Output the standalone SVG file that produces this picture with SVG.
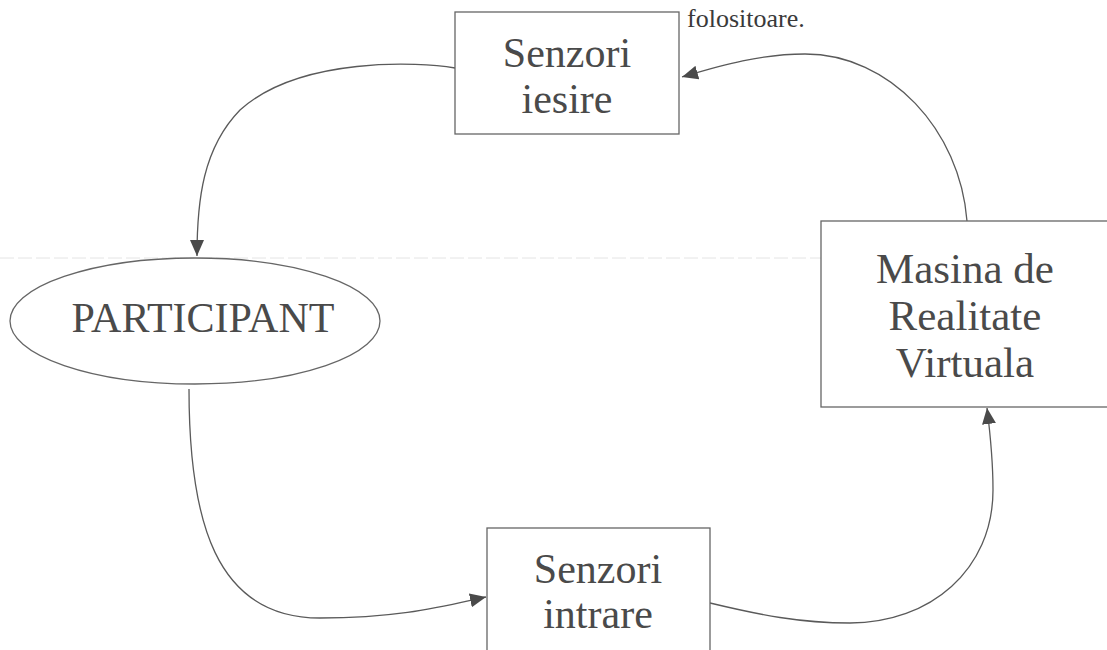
<svg xmlns="http://www.w3.org/2000/svg" width="1107" height="650" viewBox="0 0 1107 650">
<style>
.box{fill:#fff;stroke:#666;stroke-width:1.3}
.lbl{font-family:"Liberation Serif","Times New Roman",serif;font-size:42px;fill:#4a4a4a;text-anchor:middle}
.con{fill:none;stroke:#5a5a5a;stroke-width:1.3}
.note{font-family:"Liberation Serif","Times New Roman",serif;font-size:26px;fill:#3a3a3a}
</style>
<defs>
<marker id="ah" markerUnits="userSpaceOnUse" markerWidth="18" markerHeight="14" refX="16" refY="7" orient="auto">
<path d="M0,0 L16,7 L0,14 z" fill="#4a4a4a"/>
</marker>
</defs>
<rect width="1107" height="650" fill="#fff"/>
<line x1="0" y1="258" x2="1107" y2="258" stroke="#e4e4e4" stroke-width="1" stroke-dasharray="14 4"/>
<text class="note" x="687" y="27">folositoare.</text>
<g id="connectors">
<path class="con" d="M455,68 C420,62 300,56 240,110 C203,148 197,200 197,256" marker-end="url(#ah)"/>
<path class="con" d="M967,221 C960,130 890,54 805,54 C760,54 720,66 682,77" marker-end="url(#ah)"/>
<path class="con" d="M189,389 C189,520 215,618 320,618 C400,618 440,607 486,597" marker-end="url(#ah)"/>
<path class="con" d="M710,603 C760,615 800,623 850,623 C930,623 993,570 993,490 C993,460 990,432 987,408" marker-end="url(#ah)"/>
</g>
<g id="senzori-iesire">
<rect class="box" x="455" y="12" width="224" height="122"/>
<text class="lbl" x="567" y="67">Senzori</text>
<text class="lbl" x="567" y="113">iesire</text>
</g>
<g id="participant">
<ellipse class="box" cx="195" cy="321" rx="185" ry="63"/>
<text class="lbl" x="203" y="332">PARTICIPANT</text>
</g>
<g id="masina">
<rect class="box" x="821" y="221" width="300" height="186"/>
<text class="lbl" x="965" y="283" style="font-size:43px">Masina de</text>
<text class="lbl" x="965" y="330" style="font-size:43px">Realitate</text>
<text class="lbl" x="965" y="377" style="font-size:43px">Virtuala</text>
</g>
<g id="senzori-intrare">
<rect class="box" x="487" y="528" width="223" height="140"/>
<text class="lbl" x="598" y="583">Senzori</text>
<text class="lbl" x="598" y="628">intrare</text>
</g>
</svg>
